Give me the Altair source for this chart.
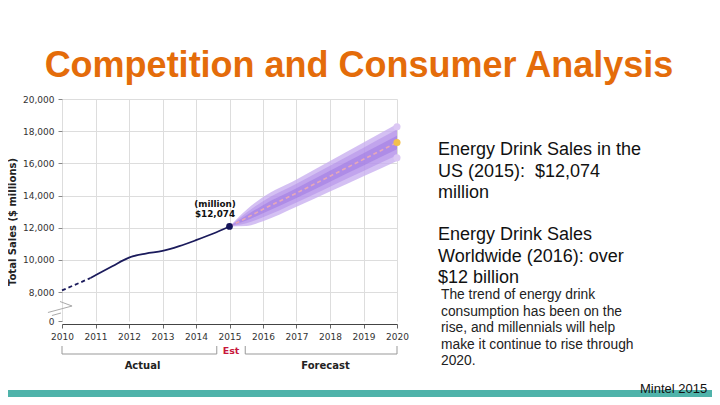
import altair as alt
import pandas as pd

# ---------------- data ----------------
actual_years = [2010, 2010.5, 2010.85, 2011, 2011.5, 2012, 2012.5, 2013, 2013.5, 2014, 2014.5, 2015]
actual_sales = [8100, 8550, 8870, 9040, 9600, 10140, 10390, 10550, 10850, 11220, 11620, 12074]
dashed_count = 3  # first points drawn dashed

fc_years = [2015, 2015.5, 2016, 2017, 2018, 2019, 2020]
fc_mid = [12074, 12600, 13150, 14150, 15200, 16250, 17300]
fc_outer_lo = [12074, 12100, 12400, 13300, 14250, 15200, 16150]
fc_outer_hi = [12074, 13100, 13900, 15000, 16150, 17300, 18450]
fc_mid_lo = [12074, 12270, 12650, 13570, 14550, 15530, 16500]
fc_mid_hi = [12074, 12930, 13650, 14730, 15850, 16970, 18100]
fc_in_lo = [12074, 12440, 12900, 13850, 14860, 15870, 16880]
fc_in_hi = [12074, 12760, 13400, 14450, 15540, 16630, 17720]

end_year = [2020, 2020, 2020]
end_vals = [18270, 17300, 16340]
end_cols = ["#dcc8f4", "#f3c04c", "#dcc8f4"]

x_ticks = list(range(2010, 2021))
y_ticks = [0, 8000, 10000, 12000, 14000, 16000, 18000, 20000]

break_x = [2009.94, 2010.30, 2009.58]
break_y = [5379, 4138, 2345]
break2_x = [2009.70, 2009.97]
break2_y = [1517, 2207]

bracket_h_x = [2010, 2015.47]
bracket_h_x2 = [2014.62, 2020]
bracket_v_x = [2010, 2014.62, 2015.47, 2020]

title_text = "Competition and Consumer Analysis"
big_lines = ["Energy Drink Sales in the", "US (2015): \u00a0$12,074", "million",
             "Energy Drink Sales", "Worldwide (2016): over", "$12 billion"]
big_y = [56, 77.5, 99, 141, 162.5, 184]
small_lines = ["The trend of energy drink", "consumption has been on the",
               "rise, and millennials will help", "make it continue to rise through", "2020."]
small_y = [200, 216.5, 233, 249.5, 266]

# ---------------- layout ----------------
W, H = 335, 222
xsc = alt.Scale(domain=[2010, 2020], nice=False, zero=False)
ysc = alt.Scale(domain=[0, 8000, 20000], range=[H, 193, 0], nice=False, zero=False)

FONT = "Liberation Sans"
VFONT = "DejaVu Sans"

actual = pd.DataFrame({"year": actual_years, "sales": actual_sales})
dashed = actual.iloc[:dashed_count]
solid = actual.iloc[dashed_count - 1:]
fc = pd.DataFrame({"year": fc_years, "mid": fc_mid,
                   "olo": fc_outer_lo, "ohi": fc_outer_hi,
                   "mlo": fc_mid_lo, "mhi": fc_mid_hi,
                   "ilo": fc_in_lo, "ihi": fc_in_hi})
ends = pd.DataFrame({"year": end_year, "val": end_vals, "col": end_cols})
one = pd.DataFrame({"a": [0]})

x_axis = alt.Axis(values=x_ticks, format="d", title=None, labelFont=VFONT, labelFontSize=9,
                  labelColor="#333", tickSize=4, tickColor="#666", domainColor="#444",
                  grid=True, gridColor="#dddddd", labelPadding=4, offset=3,
                  labelOverlap=False, labelFlush=False)
y_axis = alt.Axis(values=y_ticks, format=",d", title=None, labelFont=VFONT, labelFontSize=9,
                  labelColor="#333", tickSize=4, tickColor="#888", domain=False,
                  grid=True, gridColor="#dddddd", labelPadding=4,
                  gridOpacity={"condition": {"test": "datum.value === 0", "value": 0}, "value": 1},
                  labelOverlap=False, labelFlush=False)

def X(f):
    return alt.X(f, type="quantitative", scale=xsc, axis=x_axis)

def Y(f):
    return alt.Y(f, type="quantitative", scale=ysc, axis=y_axis)

base_solid = alt.Chart(solid).mark_line(color="#1b1b5c", strokeWidth=1.8, interpolate="monotone").encode(
    x=X("year"), y=Y("sales"))
base_dash = alt.Chart(dashed).mark_line(color="#1b1b5c", strokeWidth=1.8, strokeDash=[4, 3],
                                        interpolate="monotone").encode(x=X("year"), y=Y("sales"))

def band(lo, hi, color, op):
    return alt.Chart(fc).mark_area(color=color, opacity=op, interpolate="monotone").encode(
        x=X("year"), y=Y(lo), y2=alt.Y2(hi))

outer = band("olo", "ohi", "#c9b0f0", 0.8)
middle = band("mlo", "mhi", "#b08ce8", 0.55)
inner = band("ilo", "ihi", "#9c74e2", 0.5)
center = alt.Chart(fc).mark_line(color="#e6a8b8", strokeWidth=1.6, strokeDash=[4, 3]).encode(
    x=X("year"), y=Y("mid"))

dot2015 = alt.Chart(actual.iloc[-1:]).mark_circle(color="#14145a", size=45, opacity=1).encode(
    x=X("year"), y=Y("sales"))
enddots = alt.Chart(ends).mark_circle(size=50, opacity=1).encode(
    x=X("year"), y=Y("val"), color=alt.Color("col:N", scale=None))

brk1 = alt.Chart(pd.DataFrame({"x": break_x, "y": break_y, "o": [0, 1, 2]})).mark_line(
    color="#aaaaaa", strokeWidth=1, clip=False).encode(x=X("x"), y=Y("y"), order="o:Q")
brk2 = alt.Chart(pd.DataFrame({"x": break2_x, "y": break2_y})).mark_line(
    color="#aaaaaa", strokeWidth=1, clip=False).encode(x=X("x"), y=Y("y"))

br_h = alt.Chart(pd.DataFrame({"x": bracket_h_x, "x2": bracket_h_x2})).mark_rule(
    color="#999999", strokeWidth=1).encode(x=X("x"), x2=alt.X2("x2"), y=alt.value(255))
br_v = alt.Chart(pd.DataFrame({"x": bracket_v_x})).mark_rule(
    color="#999999", strokeWidth=1).encode(x=X("x"), y=alt.value(247), y2=alt.value(255))

def txt(text, x, y, size, color="#000000", weight="normal", font=FONT, align="left",
        baseline="alphabetic", angle=0):
    return alt.Chart(one).mark_text(text=text, fontSize=size, color=color, fontWeight=weight,
                                    font=font, align=align, baseline=baseline, angle=angle).encode(
        x=alt.value(x), y=alt.value(y))

texts = [
    txt(title_text, 297, -22, 36, color="#e46c0a", weight="bold", align="center"),
    txt("Total Sales ($ millions)", -49, 123, 10, color="#222222", weight="bold", font=VFONT,
        align="center", baseline="middle", angle=270),
    txt("(million)", 153, 104.5, 8.8, color="#111111", weight="bold", font=VFONT,
        align="center", baseline="middle"),
    txt("$12,074", 153, 115.3, 8.8, color="#111111", weight="bold", font=VFONT,
        align="center", baseline="middle"),
    txt("Est", 169, 252, 9.5, color="#c8173c", weight="bold", font=VFONT,
        align="center", baseline="middle"),
    txt("Actual", 80.5, 267, 10, color="#222222", weight="bold", font=VFONT,
        align="center", baseline="middle"),
    txt("Forecast", 263.5, 267, 10, color="#222222", weight="bold", font=VFONT,
        align="center", baseline="middle"),
    txt("Mintel 2015", 578, 294, 13, color="#111111"),
]
for t, yy in zip(big_lines, big_y):
    texts.append(txt(t, 376, yy, 18, color="#111111"))
for t, yy in zip(small_lines, small_y):
    texts.append(txt(t, 379, yy, 13.8, color="#222222"))

bar = alt.Chart(one).mark_rect(color="#4fb3aa").encode(
    x=alt.value(-60), x2=alt.value(670), y=alt.value(291), y2=alt.value(300))

chart = alt.layer(
    outer, middle, inner, center, base_dash, base_solid, dot2015, enddots,
    brk1, brk2, br_h, br_v, bar, *texts
).properties(
    width=W, height=H,
    padding={"left": 54, "top": 91, "right": 315, "bottom": 76},
    autosize=alt.AutoSizeParams(type="none"),
    background="white",
).configure_view(stroke=None)

chart.save("out.html", embed_options={"renderer": "svg", "actions": False})
